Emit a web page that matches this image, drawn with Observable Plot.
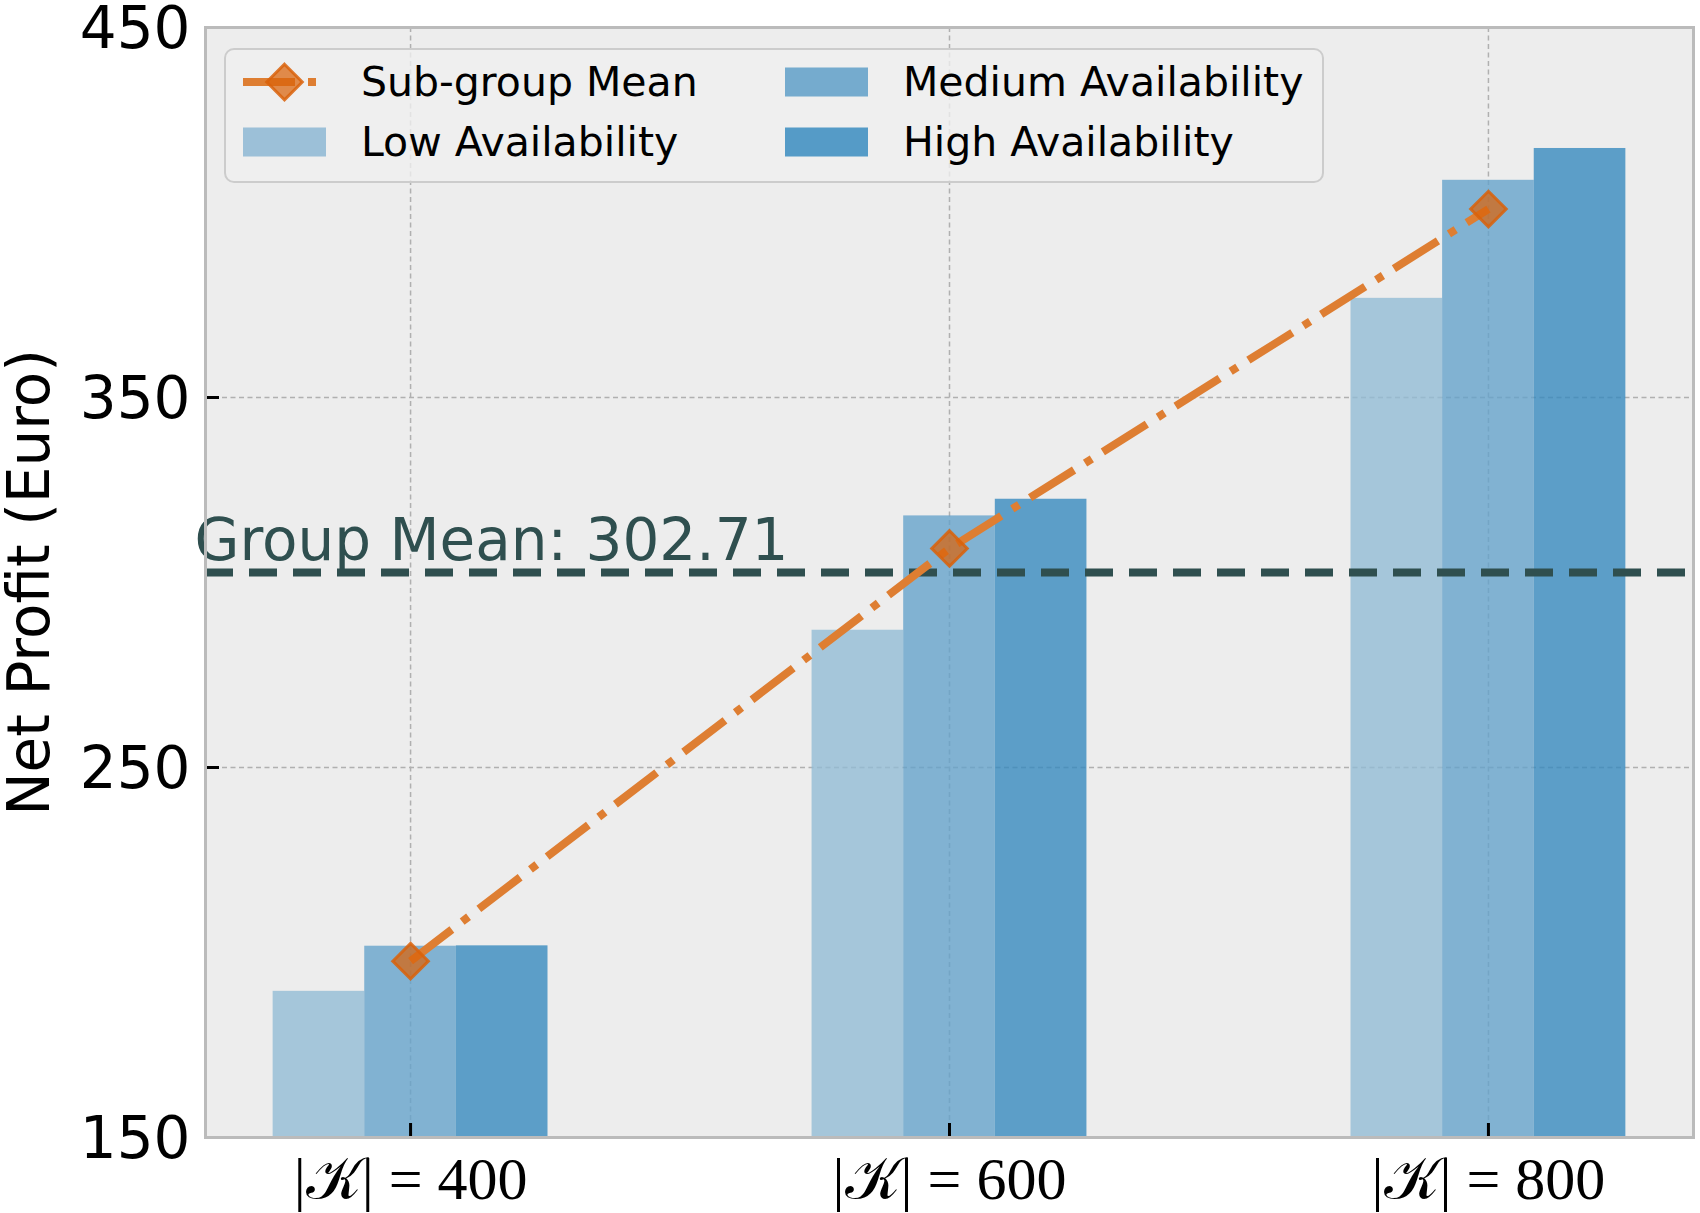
<!DOCTYPE html>
<html><head><meta charset="utf-8">
<script src="https://cdn.jsdelivr.net/npm/d3@7"></script>
<script src="https://cdn.jsdelivr.net/npm/@observablehq/plot@0.6"></script>
<style>
html,body{margin:0;padding:0;background:#fff;}
#chart{position:relative;width:1700px;height:1213px;}
</style></head><body><div id="chart"></div>
<script>
// ---- data ----
const groups = ["|𝒦| = 400", "|𝒦| = 600", "|𝒦| = 800"];
const series = ["Low Availability", "Medium Availability", "High Availability"];
const lowValues = [189.5, 287.1, 376.8];
const mediumValues = [201.7, 318.0, 408.7];
const highValues = [201.8, 322.5, 417.3];
const groupMean = 302.71;
const yTicks = [150, 250, 350, 450];
const yDomain = [150, 450];
const meanLabel = "Sub-group Mean";
const yLabel = "Net Profit (Euro)";

// ---- styles ----
const barColors = ["#92bbd5", "#65a3cb", "#378abe"];
const legendColors = ["#9cc0d8", "#75abce", "#559bc7"];
const lineColor = "#de7e32";
const markerColor = "#d9620a";
const slate = "#2f4f4f";
const bg = "#ededed";
const dashDot = "52,13,8,13";

const barWidth = 0.17;
const offsets = [-barWidth, 0, barWidth];
const valuesBySeries = [lowValues, mediumValues, highValues];
const rows = [];
series.forEach((s, si) => groups.forEach((g, gi) =>
  rows.push({gi, si, series: s, value: valuesBySeries[si][gi]})));
const means = groups.map((g, gi) => ({gi, value: d3.mean(valuesBySeries, v => v[gi])}));
const gIdx = groups.map((g, i) => i);

const lo = offsets[0] - barWidth / 2;
const hi = (groups.length - 1) + offsets[2] + barWidth / 2;
const pad = 0.05 * (hi - lo);
const xDomain = [lo - pad, hi + pad];

const chart = Plot.plot({
  width: 1700,
  height: 1213,
  marginLeft: 205,
  marginRight: 7,
  marginTop: 27,
  marginBottom: 76,
  style: {background: "#ffffff", fontFamily: "DejaVu Sans"},
  x: {domain: xDomain, axis: null},
  y: {domain: yDomain, axis: null},
  marks: [
    Plot.frame({fill: bg, stroke: null}),
    Plot.gridY(yTicks, {stroke: "#b0b0b0", strokeOpacity: 1, strokeWidth: 1.5, strokeDasharray: "5,3.5"}),
    Plot.gridX(gIdx, {stroke: "#b0b0b0", strokeOpacity: 1, strokeWidth: 1.5, strokeDasharray: "5,3.5"}),
    Plot.rect(rows, {
      x1: d => d.gi + offsets[d.si] - barWidth / 2,
      x2: d => d.gi + offsets[d.si] + barWidth / 2,
      y1: 0, y2: "value",
      fill: d => barColors[d.si], fillOpacity: 0.8, clip: true
    }),
    Plot.ruleY([groupMean], {stroke: slate, strokeWidth: 8, strokeDasharray: "28,16"}),
    Plot.text([groupMean], {
      x: () => xDomain[0], y: d => d, text: d => `Group Mean: ${d.toFixed(2)}`,
      textAnchor: "start", lineAnchor: "middle", dx: -11, dy: -31,
      fontSize: 58, fill: slate, fontFamily: "DejaVu Sans"
    }),
    Plot.line(means, {x: "gi", y: "value", stroke: lineColor, strokeWidth: 8, strokeDasharray: dashDot, strokeLinecap: "butt"}),
    Plot.dot(means, {x: "gi", y: "value", symbol: "diamond2", r: 16, fill: markerColor, fillOpacity: 0.72, stroke: markerColor, strokeOpacity: 0.85, strokeWidth: 3}),
    // inward tick marks
    Plot.axisY(yTicks, {anchor: "left", tickSize: 14, dx: 14, tickFormat: () => "", label: null, stroke: "#000", strokeWidth: 3}),
    Plot.axisX(gIdx, {anchor: "bottom", tickSize: 14, dy: -14, tickFormat: () => "", label: null, stroke: "#000", strokeWidth: 3}),
    // tick labels
    Plot.axisY(yTicks, {anchor: "left", tickSize: 0, tickPadding: 15, dy: 2, label: null, fontSize: 58, fill: "#000", fontFamily: "DejaVu Sans"}),
    Plot.axisX(gIdx, {anchor: "bottom", tickSize: 0, tickPadding: 19, label: null, tickFormat: i => groups[i], fontSize: 60, fill: "#000", fontFamily: "Liberation Serif, DejaVu Serif, serif"}),
    Plot.text([yLabel], {frameAnchor: "left", dx: -175, rotate: -90, text: d => d, textAnchor: "middle", fontSize: 58, fill: "#000", lineAnchor: "middle", fontFamily: "DejaVu Sans"}),
    Plot.frame({stroke: "#bbbbbb", strokeWidth: 3})
  ]
});
document.getElementById("chart").appendChild(chart);

// ---- legend ----
const svg = d3.select(chart);
const lg = svg.append("g").attr("font-family", "DejaVu Sans").attr("font-size", 41)
  .attr("fill", "#000").attr("text-anchor", "start");
lg.append("rect").attr("x", 225).attr("y", 49).attr("width", 1098).attr("height", 133).attr("rx", 9)
  .attr("fill", "#efefef").attr("fill-opacity", 0.8).attr("stroke", "#cccccc").attr("stroke-width", 2);
const rowsY = [82, 142];
const cols = [{hx: 243, tx: 361}, {hx: 785, tx: 903}];
const entries = [
  {label: meanLabel, type: "line", col: 0, row: 0},
  {label: series[0], type: "patch", color: legendColors[0], col: 0, row: 1},
  {label: series[1], type: "patch", color: legendColors[1], col: 1, row: 0},
  {label: series[2], type: "patch", color: legendColors[2], col: 1, row: 1}
];
const hw = 83;
for (const e of entries) {
  const x = cols[e.col].hx, y = rowsY[e.row];
  if (e.type === "patch") {
    lg.append("rect").attr("x", x).attr("y", y - 14.5).attr("width", hw).attr("height", 29).attr("fill", e.color);
  } else {
    lg.append("line").attr("x1", x).attr("x2", x + hw).attr("y1", y).attr("y2", y)
      .attr("stroke", lineColor).attr("stroke-width", 8).attr("stroke-dasharray", dashDot);
    lg.append("path").attr("d", d3.symbol(d3.symbolDiamond2, Math.PI * 16 * 16)())
      .attr("transform", `translate(${x + hw / 2},${y})`)
      .attr("fill", markerColor).attr("fill-opacity", 0.72)
      .attr("stroke", markerColor).attr("stroke-opacity", 0.85).attr("stroke-width", 3);
  }
  lg.append("text").attr("x", cols[e.col].tx).attr("y", y).attr("dy", "0.35em")
    .attr("text-anchor", "start").text(e.label);
}
</script></body></html>
